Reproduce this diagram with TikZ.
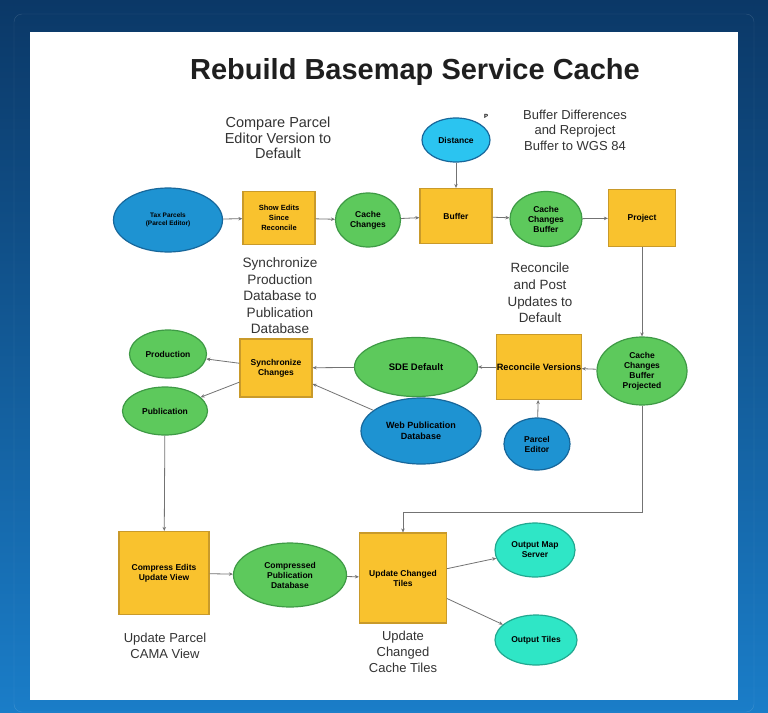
\documentclass[tikz,border=0pt]{standalone}
\usepackage{fontspec}
\setmainfont{Liberation Sans}
\usetikzlibrary{shapes.geometric}
\usetikzlibrary{arrows.meta}
\usepackage{xcolor}
\definecolor{toolfill}{HTML}{F9C22E}
\definecolor{tooledge}{HTML}{C99A2A}
\definecolor{datafill}{HTML}{5DC95C}
\definecolor{dataedge}{HTML}{3E9A45}
\definecolor{infill}{HTML}{1E93D2}
\definecolor{inedge}{HTML}{17679B}
\definecolor{parfill}{HTML}{2BC4F0}
\definecolor{outfill}{HTML}{2FE6C6}
\definecolor{outedge}{HTML}{22A890}
\definecolor{bgdark}{HTML}{0B3867}
\definecolor{bglight}{HTML}{1A7DC8}

\begin{document}
\begin{tikzpicture}[x=1pt, y=-1pt,
    tool/.style={draw=tooledge, fill=toolfill, line width=1.2pt, rectangle, inner sep=1pt, align=center, font=\fontsize{8.5}{10}\selectfont\bfseries},
    data/.style={draw=dataedge, fill=datafill, line width=1.2pt, ellipse, inner sep=0pt, align=center, font=\fontsize{8.5}{10}\selectfont\bfseries},
    input/.style={data, draw=inedge, fill=infill},
    output/.style={data, draw=outedge, fill=outfill},
    caption/.style={align=center, text=black!80, font=\fontsize{13}{16}\selectfont},
    conn/.style={-{Stealth[length=4pt,width=3.5pt]}, draw=black!55, line width=0.8pt}]
    % background and panel
    \useasboundingbox (0,0) rectangle (768,712);
    \shade[top color=bgdark, bottom color=bglight] (0,0) rectangle (768,712);
    \draw[white, opacity=0.15, rounded corners=8pt] (14,14) rectangle (754,712);
    \fill[white] (30,32) rectangle (738,700);

    \node[font=\fontsize{29}{33}\selectfont\bfseries, text=black!88] (title) at (415,72) {Rebuild Basemap Service Cache};

    % captions
    \node[caption, font=\fontsize{14.5}{15.5}\selectfont] (capcompare) at (278,138) {Compare Parcel\\Editor Version to\\Default};
    \node[caption, font=\fontsize{13}{15.5}\selectfont] (capbuffer) at (575,130) {Buffer Differences\\and Reproject\\Buffer to WGS 84};
    \node[caption, font=\fontsize{13.6}{16.5}\selectfont] (capsync) at (280,296) {Synchronize\\Production\\Database to\\Publication\\Database};
    \node[caption, font=\fontsize{13.4}{16.7}\selectfont] (capreconcile) at (540,293) {Reconcile\\and Post\\Updates to\\Default};
    \node[caption] (capcama) at (165,646) {Update Parcel\\CAMA View};
    \node[caption] (captiles) at (403,652) {Update\\Changed\\Cache Tiles};

    % first row
    \node[input, minimum width=109pt, minimum height=64pt, font=\fontsize{6.5}{8}\selectfont\bfseries] (parcels) at (168,220) {Tax Parcels\\(Parcel Editor)};
    \node[tool, minimum width=72pt, minimum height=53pt, font=\fontsize{7.5}{10}\selectfont\bfseries] (showedits) at (279,218) {Show Edits\\Since\\Reconcile};
    \node[data, minimum width=65pt, minimum height=54pt] (changes) at (368,220) {Cache\\Changes};
    \node[tool, minimum width=72pt, minimum height=55pt] (buffer) at (456,216) {Buffer};
    \node[input, fill=parfill, minimum width=68pt, minimum height=44pt] (distance) at (456,140) {Distance};
    \node[font=\fontsize{6}{7}\selectfont\bfseries] (pmark) at (486,116) {P};
    \node[data, minimum width=72pt, minimum height=55pt] (changesbuf) at (546,219) {Cache\\Changes\\Buffer};
    \node[tool, minimum width=67pt, minimum height=57pt] (project) at (642,218) {Project};

    % second row
    \node[data, minimum width=90pt, minimum height=68pt] (projected) at (642,371) {Cache\\Changes\\Buffer\\Projected};
    \node[tool, minimum width=82pt, minimum height=65pt, inner sep=0pt, font=\fontsize{9.2}{11}\selectfont\bfseries] (reconcile) at (539,367) {Reconcile Versions};
    \node[input, minimum width=66pt, minimum height=52pt] (editor) at (537,444) {Parcel\\Editor};
    \node[data, minimum width=123pt, minimum height=59pt, font=\fontsize{9.5}{11}\selectfont\bfseries] (sdedefault) at (416,367) {SDE Default};
    \node[input, minimum width=120pt, minimum height=66pt, font=\fontsize{9}{11}\selectfont\bfseries] (webpub) at (421,431) {Web Publication\\Database};
    \node[tool, minimum width=72pt, minimum height=58pt] (sync) at (276,368) {Synchronize\\Changes};
    \node[data, minimum width=77pt, minimum height=48pt] (production) at (168,354) {Production};
    \node[data, minimum width=85pt, minimum height=48pt] (publication) at (165,411) {Publication};

    % third row
    \node[tool, minimum width=90pt, minimum height=83pt] (compress) at (164,573) {Compress Edits\\Update View};
    \node[data, minimum width=113pt, minimum height=64pt] (compressed) at (290,575) {Compressed\\Publication\\Database};
    \node[tool, minimum width=87pt, minimum height=90pt] (update) at (403,578) {Update Changed\\Tiles};
    \node[output, minimum width=80pt, minimum height=54pt] (mapserver) at (535,550) {Output Map\\Server};
    \node[output, minimum width=82pt, minimum height=50pt] (outtiles) at (536,640) {Output Tiles};
    \coordinate (turn) at (642,512);

    % connectors
    \draw[conn] (parcels) -- (showedits);
    \draw[conn] (showedits) -- (changes);
    \draw[conn] (changes) -- (buffer);
    \draw[conn] (distance) -- (buffer);
    \draw[conn] (buffer) -- (changesbuf);
    \draw[conn] (changesbuf) -- (project);
    \draw[conn] (project) -- (projected);
    \draw[conn] (projected) -- (reconcile);
    \draw[conn] (editor) -- (reconcile);
    \draw[conn] (reconcile) -- (sdedefault);
    \draw[conn] (sdedefault) -- (sync);
    \draw[conn] (webpub) -- (sync);
    \draw[conn] (sync) -- (production);
    \draw[conn] (sync) -- (publication);
    \draw[conn] (publication) -- (compress);
    \draw[conn] (compress) -- (compressed);
    \draw[conn] (compressed) -- (update);
    \draw[conn] (projected.south) -- (turn) -| (update.north);
    \draw[conn] (update) -- (mapserver);
    \draw[conn] (update) -- (outtiles);
\end{tikzpicture}
\end{document}
